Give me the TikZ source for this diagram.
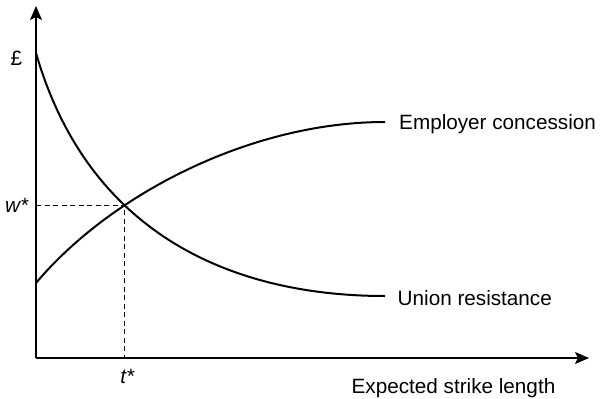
\documentclass[tikz,border=0pt]{standalone}
\usepackage{fontspec}
\setmainfont{Liberation Sans}
\usetikzlibrary{arrows.meta,intersections}

\begin{document}
\begin{tikzpicture}[x=1pt, y=-1pt,
      font=\fontsize{20.7}{24}\selectfont,
      eixo/.style={line width=1.6pt, -{Stealth[length=14pt, width=12pt, inset=3pt]}},
      curva/.style={line width=2pt},
      guia/.style={line width=1.4pt, dash pattern=on 5pt off 3.5pt},
      rotulo/.style={inner sep=0pt}]
    \useasboundingbox (0,0) rectangle (601,398);
    \coordinate (o) at (36,358);
    \coordinate (ytop) at (36,6);
    \coordinate (xend) at (589,358);
    \draw[eixo] (o) -- (ytop);
    \draw[eixo] (o) -- (xend);
    \coordinate (u0) at (36,53);
    \coordinate (u1) at (385,296);
    \coordinate (e0) at (36,283);
    \coordinate (e1) at (385,122);
    \draw[curva, name path=union] (u0) .. controls (90,240) and (240,296) .. (u1);
    \draw[curva, name path=employer] (e0) .. controls (110,195) and (250,122) .. (e1);
    \path[name intersections={of=union and employer, by=eq}];
    \draw[guia] (o |- eq) -- (eq) -- (eq |- o);
    \node[rotulo, anchor=base] (libra) at (16.5,65.6) {£};
    \node[rotulo, anchor=base east] (wstar) at (29,212) {\textit{w*}};
    \node[rotulo, anchor=base] (tstar) at (127.5,383) {\textit{t*}};
    \node[rotulo, anchor=base west] (emp) at (399,129.3) {Employer concession};
    \node[rotulo, anchor=base west] (uni) at (397.5,305) {Union resistance};
    \node[rotulo, anchor=base east] (esl) at (555.5,393) {Expected strike length};
  \end{tikzpicture}
\end{document}
